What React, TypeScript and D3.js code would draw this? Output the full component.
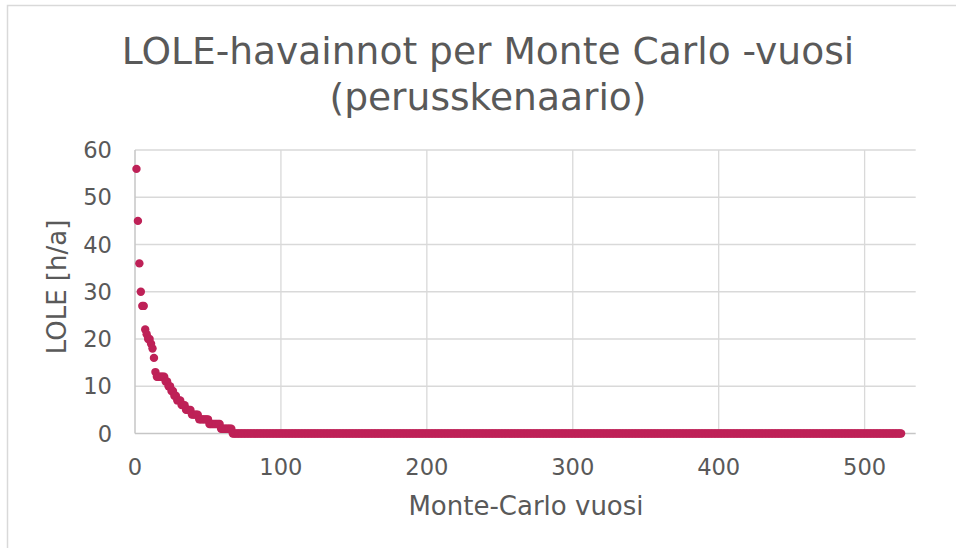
import React from "react";
import * as d3 from "d3";

// Sorted non-zero LOLE observations (h/a), Monte Carlo years 1..66
const nonZeroLole: number[] = [
  56, 45, 36, 30, 27, 27, 22, 21, 20, 20, 19, 18, 16, 13, 12, 12, 12, 12, 12, 12,
  11, 11, 10, 10, 9, 9, 8, 8, 7, 7, 7, 6, 6, 6, 5, 5, 5, 5, 4, 4,
  4, 4, 4, 3, 3, 3, 3, 3, 3, 3, 2, 2, 2, 2, 2, 2, 2, 2, 1, 1,
  1, 1, 1, 1, 1, 1,
];
// Remaining Monte Carlo years with zero LOLE
const zeroYearCount = 459;
const lole: number[] = nonZeroLole.concat(new Array(zeroYearCount).fill(0));
const years: number[] = lole.map((_, i) => i + 1);

const xTicks: number[] = [0, 100, 200, 300, 400, 500];
const yTicks: number[] = [0, 10, 20, 30, 40, 50, 60];
const titleLines: string[] = ["LOLE-havainnot per Monte Carlo -vuosi", "(perusskenaario)"];
const xTitle = "Monte-Carlo vuosi";
const yTitle = "LOLE [h/a]";

export default function App() {
  const W = 956;
  const H = 548;
  const x = d3.scaleLinear().domain([0, 535]).range([135, 915.7]);
  const y = d3.scaleLinear().domain([0, 60]).range([433.5, 150]);
  const font = "'DejaVu Sans', Verdana, sans-serif";
  const textColor = "#595959";
  const grid = "#d9d9d9";
  const pointColor = "#BE2157";

  return (
    <svg
      width={W}
      height={H}
      style={{ position: "absolute", left: 0, top: 0, background: "#fff" }}
      fontFamily={font}
    >
      <rect x={0} y={0} width={W} height={H} fill="#fff" />
      <rect x={7.5} y={5.5} width={W + 20} height={H + 20} fill="none" stroke={grid} strokeWidth={1.5} />

      {titleLines.map((t, i) => (
        <text
          key={t}
          x={488}
          y={63.5 + i * 46}
          textAnchor="middle"
          fontSize={37.6}
          fill={textColor}
        >
          {t}
        </text>
      ))}

      {/* horizontal gridlines */}
      {yTicks.filter((v) => v > 0).map((v) => (
        <line key={"hy" + v} x1={x(0)} x2={x.range()[1]} y1={y(v)} y2={y(v)} stroke={grid} strokeWidth={1.3} />
      ))}
      {/* vertical gridlines */}
      {xTicks.filter((v) => v > 0).map((v) => (
        <line key={"vx" + v} x1={x(v)} x2={x(v)} y1={y(60)} y2={y(0)} stroke={grid} strokeWidth={1.3} />
      ))}
      {/* axis lines */}
      <line x1={x(0)} x2={x.range()[1]} y1={y(0)} y2={y(0)} stroke="#c6c6c6" strokeWidth={1.5} />
      <line x1={x(0)} x2={x(0)} y1={y(60)} y2={y(0)} stroke="#c6c6c6" strokeWidth={1.5} />

      {/* y tick labels */}
      {yTicks.map((v) => (
        <text key={"yt" + v} x={112} y={y(v)} dy="0.36em" textAnchor="end" fontSize={22.6} fill={textColor}>
          {v}
        </text>
      ))}
      {/* x tick labels */}
      {xTicks.map((v) => (
        <text key={"xt" + v} x={x(v)} y={475} textAnchor="middle" fontSize={22.6} fill={textColor}>
          {v}
        </text>
      ))}

      <text x={526} y={515} textAnchor="middle" fontSize={26} fill={textColor}>
        {xTitle}
      </text>
      <text transform="translate(66,287) rotate(-90)" textAnchor="middle" fontSize={26} fill={textColor}>
        {yTitle}
      </text>

      {lole.map((v, i) => (
        <circle key={i} cx={x(years[i])} cy={y(v)} r={4.2} fill={pointColor} />
      ))}
    </svg>
  );
}
